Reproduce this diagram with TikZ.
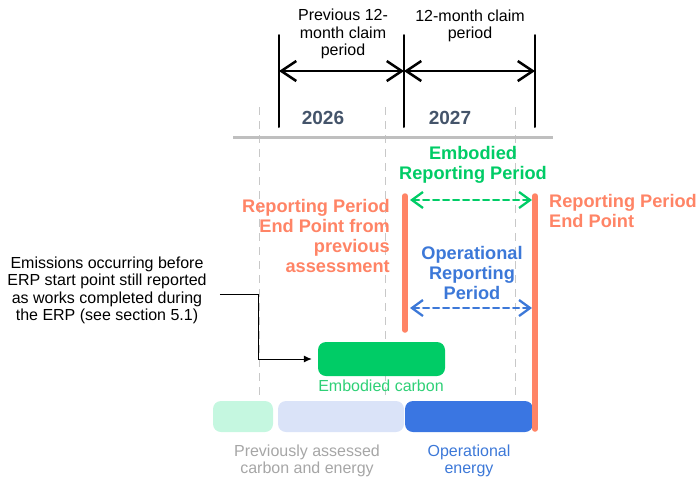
\documentclass[tikz,border=0pt]{standalone}
\usepackage{fontspec}
\setmainfont{Liberation Sans}
\usepackage{tikz}
\usetikzlibrary{calc,arrows.meta}
\usepackage{xcolor}

\definecolor{rpOrange}{RGB}{255,132,102}
\definecolor{embGreen}{RGB}{0,204,102}
\definecolor{embText}{RGB}{46,208,118}
\definecolor{opBlue}{RGB}{60,120,216}
\definecolor{opBar}{RGB}{58,118,226}
\definecolor{prevBlue}{RGB}{218,227,248}
\definecolor{prevMint}{RGB}{197,247,224}
\definecolor{prevGray}{RGB}{166,166,166}
\definecolor{yearSlate}{RGB}{68,84,106}
\definecolor{axisGray}{RGB}{191,191,191}
\definecolor{gridGray}{RGB}{200,200,200}

\tikzset{
  txt/.style={font=\fontsize{16}{17.3}\selectfont,align=center,inner sep=0pt},
  lbl/.style={font=\fontsize{18.2}{20}\bfseries\selectfont,inner sep=0pt},
  yearlbl/.style={font=\fontsize{19}{22}\bfseries\selectfont,text=yearSlate,inner sep=0pt},
  bar/.style={rounded corners=8pt,minimum height=31pt,inner sep=0pt},
  claim/.style={line width=2.5pt,{Straight Barb[length=15pt,width=20pt]}-{Straight Barb[length=15pt,width=20pt]}},
  period/.style={line width=2.3pt,dash pattern=on 6pt off 4pt,{Straight Barb[length=11pt,width=16pt]}-{Straight Barb[length=11pt,width=16pt]}},
  endline/.style={rpOrange,line width=5.5pt,line cap=round},
}

\begin{document}
\begin{tikzpicture}[x=1pt,y=-1pt,line cap=round]
  \useasboundingbox (0,0) rectangle (699,483);

  % --- grid: dashed year marks ---
  \foreach \gx in {259,385,515}
    \draw[gridGray,line width=1pt,dash pattern=on 8pt off 6pt,line cap=butt] (\gx,107) -- (\gx,395);

  % axis line
  \draw[axisGray,line width=3pt,line cap=butt] (233,137) -- (553,137);

  % --- claim periods ---
  \coordinate (c1top) at (279,35);
  \coordinate (c1bot) at (279,127);
  \coordinate (c2top) at (404,35);
  \coordinate (c2bot) at (404,127);
  \coordinate (c3top) at (535,35);
  \coordinate (c3bot) at (535,127);
  \draw[line width=2pt] (c1top) -- (c1bot);
  \draw[line width=2pt] (c2top) -- (c2bot);
  \draw[line width=2pt] (c3top) -- (c3bot);

  \coordinate (c1mid) at (279,71);
  \coordinate (c2mid) at (404,71);
  \coordinate (c3mid) at (535,71);
  \draw[claim] (c1mid) -- (c2mid);
  \draw[claim] (c2mid) -- (c3mid);

  \node[txt] (prevclaim) at (343,34) {Previous 12-\\month claim\\period};
  \node[txt] (curclaim) at (470,26) {12-month claim\\period};

  \node[yearlbl] (y2026) at (323,118) {2026};
  \node[yearlbl] (y2027) at (450,118) {2027};

  % --- reporting period end points ---
  \coordinate (e1top) at (405,196);
  \coordinate (e1bot) at (405,330);
  \coordinate (e2top) at (535,196);
  \coordinate (e2bot) at (535,429);
  \draw[endline] (e1top) -- (e1bot);

  \node[lbl,rpOrange,align=right,anchor=east] (prevend) at (390,236)
    {Reporting Period\\End Point from\\previous\\assessment};
  \node[lbl,rpOrange,align=left,anchor=west] (curend) at (549,211)
    {Reporting Period\\End Point};

  % embodied and operational periods
  \node[lbl,embGreen,align=center] (embrp) at (473,165) {Embodied\\Reporting Period};
  \coordinate (ea) at (410,200);
  \coordinate (eb) at (532,200);
  \draw[period,embGreen] (ea) -- (eb);

  \node[lbl,opBlue,align=center] (oprp) at (472,273) {Operational\\Reporting\\Period};
  \coordinate (oa) at (410,308);
  \coordinate (ob) at (532,308);
  \draw[period,opBlue] (oa) -- (ob);

  % --- bars ---
  \node[bar,fill=embGreen,minimum width=127pt,minimum height=34pt] (embc) at (381.5,359) {};
  \node[txt,embText] (embclbl) at (381,386) {Embodied carbon};

  \node[bar,fill=prevMint,minimum width=60pt] (prevmint) at (243,416.5) {};
  \node[bar,fill=prevBlue,minimum width=126pt] (prevbar) at (341,416.5) {};
  \node[bar,fill=opBar,minimum width=128pt] (opbar) at (469,416.5) {};
  \draw[endline] (e2top) -- (e2bot);

  \node[txt,prevGray] (prevlbl) at (307,461) {Previously assessed\\carbon and energy};
  \node[txt,opBlue] (oplbl) at (469,461) {Operational\\energy};

  % --- note on early emissions ---
  \node[txt] (note) at (107,290.5)
    {Emissions occurring before\\ERP start point still reported\\as works completed during\\the ERP (see section 5.1)};
  \draw[line width=1pt,line cap=butt,-{Latex[length=8pt,width=7pt]}]
    ([shift={(13pt,-3.5pt)}]note.east) -| ([xshift=-59.5pt]embc.west) -- ([xshift=-6pt]embc.west);
\end{tikzpicture}
\end{document}
